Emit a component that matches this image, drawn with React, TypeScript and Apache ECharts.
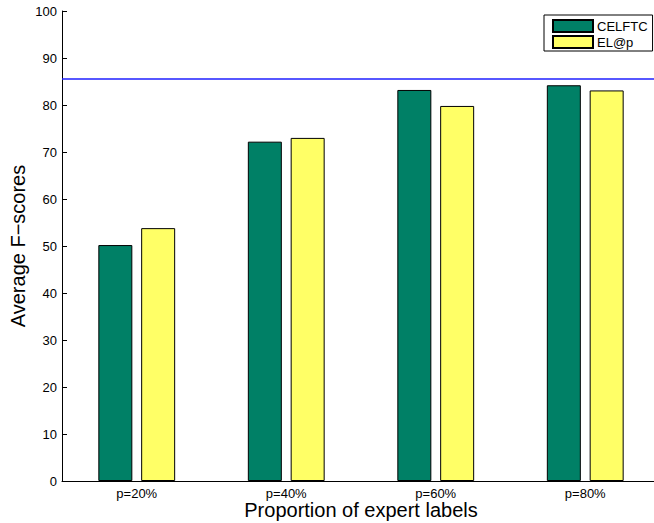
import React, { useEffect, useRef } from "react";
import * as echarts from "echarts";

const categories = ["p=20%", "p=40%", "p=60%", "p=80%"];
const celftc = [50.2, 72.2, 83.2, 84.2];
const elp = [53.8, 73.0, 79.8, 83.1];
const referenceLine = 85.5;
const yTicks = { min: 0, max: 100, interval: 10 };

const FONT = "Liberation Sans, Arial, Helvetica, sans-serif";

export default function App() {
  const ref = useRef<HTMLDivElement>(null);
  useEffect(() => {
    if (!ref.current) return;
    const chart = echarts.init(ref.current, undefined, { renderer: "svg" });
    chart.setOption({
      animation: false,
      backgroundColor: "#fff",
      textStyle: { fontFamily: FONT },
      grid: {
        left: 62,
        top: 11,
        width: 598,
        height: 470,
        containLabel: false,
        outerBoundsMode: "none",
      },
      legend: {
        left: 544,
        top: 15,
        orient: "vertical",
        padding: [4, 5, 2, 8],
        itemGap: 2,
        itemWidth: 40,
        itemHeight: 12,
        icon: "rect",
        borderColor: "#000",
        borderWidth: 1,
        backgroundColor: "#fff",
        textStyle: { fontSize: 13, color: "#000", fontFamily: FONT, padding: [0, 0, 0, -1] },
        data: ["CELFTC", "EL@p"],
      },
      xAxis: {
        type: "category",
        data: categories,
        boundaryGap: true,
        name: "Proportion of expert labels",
        nameLocation: "middle",
        nameGap: 19,
        nameMoveOverlap: false,
        nameTextStyle: { fontSize: 20, color: "#000", fontFamily: FONT },
        axisLine: { lineStyle: { color: "#000", width: 1 } },
        axisTick: { inside: true, alignWithLabel: true, length: 4, lineStyle: { color: "#000" } },
        axisLabel: { fontSize: 13, color: "#000", margin: 6, fontFamily: FONT },
        splitLine: { show: false },
      },
      yAxis: {
        type: "value",
        min: yTicks.min,
        max: yTicks.max,
        interval: yTicks.interval,
        name: "Average F\u2212scores",
        nameLocation: "middle",
        nameGap: 34,
        nameMoveOverlap: false,
        nameTextStyle: { fontSize: 20, color: "#000", fontFamily: FONT },
        axisLine: { show: true, lineStyle: { color: "#000", width: 1 } },
        axisTick: { show: true, inside: true, length: 5, lineStyle: { color: "#000" } },
        axisLabel: { fontSize: 13, color: "#000", margin: 5, fontFamily: FONT },
        splitLine: { show: false },
      },
      series: [
        {
          name: "CELFTC",
          type: "bar",
          data: celftc,
          barWidth: 34,
          barGap: "26%",
          itemStyle: { color: "#008066", borderColor: "#000", borderWidth: 1 },
        },
        {
          name: "EL@p",
          type: "bar",
          data: elp,
          barWidth: 34,
          itemStyle: { color: "#ffff66", borderColor: "#000", borderWidth: 1 },
        },
        {
          name: "reference",
          type: "line",
          data: [],
          color: "#0000ff",
          markLine: {
            silent: true,
            symbol: ["none", "none"],
            label: { show: false },
            lineStyle: { color: "#1f1fff", width: 1.5, type: "solid" },
            data: [{ yAxis: referenceLine }],
          },
        },
      ],
    });
    return () => chart.dispose();
  }, []);
  return (
    <div
      ref={ref}
      style={{ position: "fixed", left: 0, top: 0, width: 654, height: 523, background: "#fff" }}
    />
  );
}
